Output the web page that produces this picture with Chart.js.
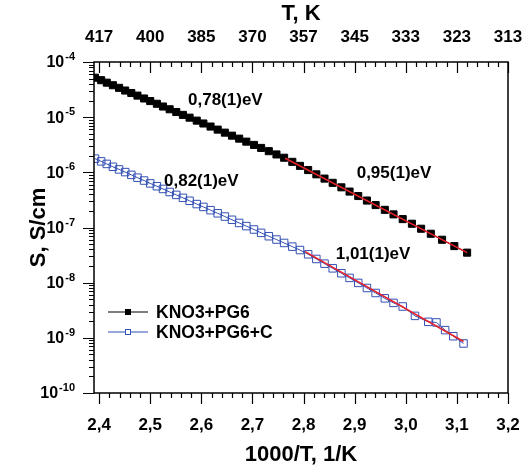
<!DOCTYPE html>
<html>
<head>
<meta charset="utf-8">
<script src="https://cdn.jsdelivr.net/npm/chart.js@4.4.0/dist/chart.umd.min.js"></script>
<style>
  html, body { margin: 0; padding: 0; background: #fff; }
</style>
</head>
<body>
<canvas id="chart" width="523" height="470"></canvas>
<script>
// ── Axes ──
const xTicks  = [2.4, 2.5, 2.6, 2.7, 2.8, 2.9, 3.0, 3.1, 3.2];
const xLabels = ['2,4', '2,5', '2,6', '2,7', '2,8', '2,9', '3,0', '3,1', '3,2'];
const tLabels = ['417', '400', '385', '370', '357', '345', '333', '323', '313'];
const yTicks  = [1e-4, 1e-5, 1e-6, 1e-7, 1e-8, 1e-9, 1e-10];
const yExps   = ['-4', '-5', '-6', '-7', '-8', '-9', '-10'];

// ── KNO3+PG6 ──
const pg6X = [2.392, 2.404, 2.415, 2.427, 2.439, 2.451, 2.463, 2.475, 2.488, 2.500,
              2.513, 2.525, 2.538, 2.551, 2.564, 2.577, 2.591, 2.604, 2.618, 2.632,
              2.646, 2.660, 2.674, 2.688, 2.703, 2.717, 2.732, 2.747, 2.762, 2.778,
              2.793, 2.809, 2.825, 2.841, 2.857, 2.874, 2.890, 2.907, 2.924, 2.941,
              2.959, 2.976, 2.994, 3.012, 3.030, 3.049, 3.071, 3.095, 3.120];
const pg6S = [5.19e-5, 4.68e-5, 4.22e-5, 3.79e-5, 3.40e-5, 3.04e-5, 2.74e-5, 2.46e-5, 2.18e-5, 1.96e-5,
              1.75e-5, 1.56e-5, 1.39e-5, 1.24e-5, 1.10e-5, 9.8e-6, 8.65e-6, 7.68e-6, 6.76e-6, 5.95e-6,
              5.24e-6, 4.62e-6, 4.08e-6, 3.60e-6, 3.14e-6, 2.77e-6, 2.42e-6, 2.11e-6, 1.84e-6, 1.55e-6,
              1.31e-6, 1.10e-6, 9.2e-7, 7.7e-7, 6.45e-7, 5.35e-7, 4.48e-7, 3.72e-7, 3.08e-7, 2.55e-7,
              2.09e-7, 1.73e-7, 1.42e-7, 1.17e-7, 9.5e-8, 7.7e-8, 6.0e-8, 4.6e-8, 3.5e-8];

// ── KNO3+PG6+C ──
const pg6cX = [2.392, 2.404, 2.415, 2.427, 2.439, 2.451, 2.463, 2.475, 2.488, 2.500,
               2.513, 2.525, 2.538, 2.551, 2.564, 2.577, 2.591, 2.604, 2.618, 2.632,
               2.646, 2.660, 2.674, 2.688, 2.703, 2.717, 2.732, 2.747, 2.762, 2.778,
               2.793, 2.809, 2.825, 2.841, 2.857, 2.874, 2.890, 2.907, 2.924, 2.941,
               2.959, 2.976, 2.994, 3.018, 3.044, 3.060, 3.077, 3.093, 3.113];
const pg6cS = [1.77e-6, 1.58e-6, 1.42e-6, 1.26e-6, 1.13e-6, 1.01e-6, 9.0e-7, 8.0e-7, 7.1e-7, 6.3e-7,
               5.6e-7, 5.0e-7, 4.4e-7, 3.9e-7, 3.45e-7, 3.05e-7, 2.66e-7, 2.36e-7, 2.06e-7, 1.81e-7,
               1.58e-7, 1.38e-7, 1.21e-7, 1.06e-7, 9.2e-8, 8.0e-8, 6.95e-8, 6.05e-8, 5.25e-8, 4.5e-8,
               3.9e-8, 3.27e-8, 2.69e-8, 2.21e-8, 1.82e-8, 1.48e-8, 1.22e-8, 9.9e-9, 8.0e-9, 6.5e-9,
               5.2e-9, 4.3e-9, 3.7e-9, 2.5e-9, 1.95e-9, 1.9e-9, 1.38e-9, 1.07e-9, 7.9e-10];

// ── Arrhenius fits (high 1000/T part) ──
const fitPg6X  = [2.764, 3.120];
const fitPg6S  = [1.80e-6, 3.5e-8];
const fitPg6cX = [2.803, 3.113];
const fitPg6cS = [3.65e-8, 8.6e-10];

// ── Activation energies ──
const eaText = ['0,78(1)eV', '0,95(1)eV', '0,82(1)eV', '1,01(1)eV'];
const eaX    = [2.647, 2.977, 2.600, 2.936];
const eaS    = [2.0e-5, 9.8e-7, 7.0e-7, 3.3e-8];

const FONT = "'Liberation Sans', Arial, sans-serif";
const INK  = '#000';
const BLUE = '#3350b4';
const RED  = '#e8202a';

const pts = (xs, ys) => xs.map((x, i) => ({ x, y: ys[i] }));

// frame, tick marks, y labels, legend and energy labels
const framePlugin = {
  id: 'frame',
  afterDraw(chart) {
    const { ctx, chartArea: a, scales } = chart;
    const sx = scales.x, sy = scales.y;
    ctx.save();
    ctx.strokeStyle = INK;
    ctx.lineWidth = 1.5;
    ctx.strokeRect(a.left, a.top, a.right - a.left, a.bottom - a.top);

    ctx.lineWidth = 1.2;
    ctx.beginPath();
    // x: bottom ticks outward, top ticks inward
    for (let i = 0; i <= 40; i++) {
      const v = 2.4 + i * 0.02;
      const px = Math.round(sx.getPixelForValue(v)) + 0.5;
      const len = i % 5 === 0 ? 11 : 5;
      ctx.moveTo(px, a.bottom); ctx.lineTo(px, a.bottom + len);
      ctx.moveTo(px, a.top);    ctx.lineTo(px, a.top + len);
    }
    // y: outward on the left
    for (let e = -10; e <= -4; e++) {
      const py = Math.round(sy.getPixelForValue(Math.pow(10, e))) + 0.5;
      ctx.moveTo(a.left, py); ctx.lineTo(a.left - 11, py);
      if (e === -4) continue;
      for (let m = 2; m <= 9; m++) {
        const q = Math.round(sy.getPixelForValue(m * Math.pow(10, e))) + 0.5;
        ctx.moveTo(a.left, q); ctx.lineTo(a.left - 5, q);
      }
    }
    ctx.stroke();

    // y labels 10^n
    ctx.fillStyle = INK;
    ctx.textBaseline = 'middle';
    yTicks.forEach((v, i) => {
      const py = sy.getPixelForValue(v);
      ctx.font = `bold 11px ${FONT}`;
      const we = ctx.measureText(yExps[i]).width;
      ctx.textAlign = 'right';
      ctx.fillText(yExps[i], 75, py - 5);
      ctx.font = `bold 16px ${FONT}`;
      ctx.fillText('10', 75 - we - 1, py + 1);
    });

    // energy labels
    ctx.font = `bold 17px ${FONT}`;
    ctx.textAlign = 'center';
    eaText.forEach((t, i) => {
      ctx.fillText(t, sx.getPixelForValue(eaX[i]), sy.getPixelForValue(eaS[i]));
    });

    // legend
    const rows = [
      { label: 'KNO3+PG6',   color: '#000', fill: '#000' },
      { label: 'KNO3+PG6+C', color: BLUE,   fill: '#fff' },
    ];
    rows.forEach((r, i) => {
      const y = 312 + i * 20;
      ctx.strokeStyle = r.color;
      ctx.lineWidth = 1.2;
      ctx.beginPath(); ctx.moveTo(108, y); ctx.lineTo(148, y); ctx.stroke();
      ctx.fillStyle = r.fill;
      ctx.fillRect(125, y - 3, 6, 6);
      ctx.lineWidth = 1;
      ctx.strokeRect(125.5, y - 2.5, 5, 5);
      ctx.fillStyle = INK;
      ctx.textAlign = 'left';
      ctx.font = `bold 17.5px ${FONT}`;
      ctx.fillText(r.label, 156, y + 1);
    });
    ctx.restore();
  }
};

const tickFont  = { family: FONT, weight: 'bold', size: 17 };
const titleFont = { family: FONT, weight: 'bold', size: 22 };

// fixed box sizes so the plot frame sits at 94..508 x 62..393
const fixHeight = h => s => { s.height = h; s.paddingLeft = 0; s.paddingRight = 0; };

new Chart(document.getElementById('chart'), {
  type: 'scatter',
  data: {
    datasets: [
      { data: pts(fitPg6X, fitPg6S),   showLine: true, borderColor: RED, borderWidth: 1.6, pointRadius: 0, order: 0 },
      { data: pts(fitPg6cX, fitPg6cS), showLine: true, borderColor: RED, borderWidth: 1.6, pointRadius: 0, order: 0 },
      { label: 'KNO3+PG6', data: pts(pg6X, pg6S), showLine: true, borderColor: '#000', borderWidth: 1,
        pointStyle: 'rect', pointRadius: 5, backgroundColor: '#000', pointBorderColor: '#000', order: 1 },
      { label: 'KNO3+PG6+C', data: pts(pg6cX, pg6cS), showLine: true, borderColor: BLUE, borderWidth: 1,
        pointStyle: 'rect', pointRadius: 5.3, backgroundColor: 'rgba(255,255,255,0)', pointBorderColor: BLUE,
        pointBorderWidth: 1, order: 1 },
    ],
  },
  options: {
    responsive: false,
    animation: false,
    layout: { padding: { left: 0, right: 15, top: 0, bottom: 0 } },
    plugins: { legend: { display: false }, tooltip: { enabled: false } },
    scales: {
      x: {
        type: 'linear', position: 'bottom', min: 2.39, max: 3.2,
        afterBuildTicks: s => { s.ticks = xTicks.map(v => ({ value: v })); },
        afterFit: fixHeight(77),
        ticks: { callback: (v, i) => xLabels[i], font: tickFont, color: INK, padding: 22, maxRotation: 0, autoSkip: false },
        grid: { display: false, drawTicks: false },
        border: { display: false },
        title: { display: true, text: '1000/T, 1/K', font: titleFont, color: INK, padding: { top: 0, bottom: 2 } },
      },
      x2: {
        type: 'linear', position: 'top', min: 2.39, max: 3.2,
        afterBuildTicks: s => { s.ticks = xTicks.map(v => ({ value: v })); },
        afterFit: fixHeight(62),
        ticks: { callback: (v, i) => tLabels[i], font: tickFont, color: INK, padding: 14, maxRotation: 0, autoSkip: false },
        grid: { display: false, drawTicks: false },
        border: { display: false },
        title: { display: true, text: 'T, K', font: titleFont, color: INK, padding: { top: 1, bottom: 0 } },
      },
      y: {
        type: 'logarithmic', position: 'left', min: 1e-10, max: 1e-4,
        afterFit: s => { s.width = 94; s.paddingTop = 0; s.paddingBottom = 0; },
        ticks: { display: false },
        grid: { display: false, drawTicks: false },
        border: { display: false },
        title: { display: true, text: 'S, S/cm', font: titleFont, color: INK, padding: { top: 26, bottom: 0 } },
      },
    },
  },
  plugins: [framePlugin],
});
</script>
</body>
</html>
